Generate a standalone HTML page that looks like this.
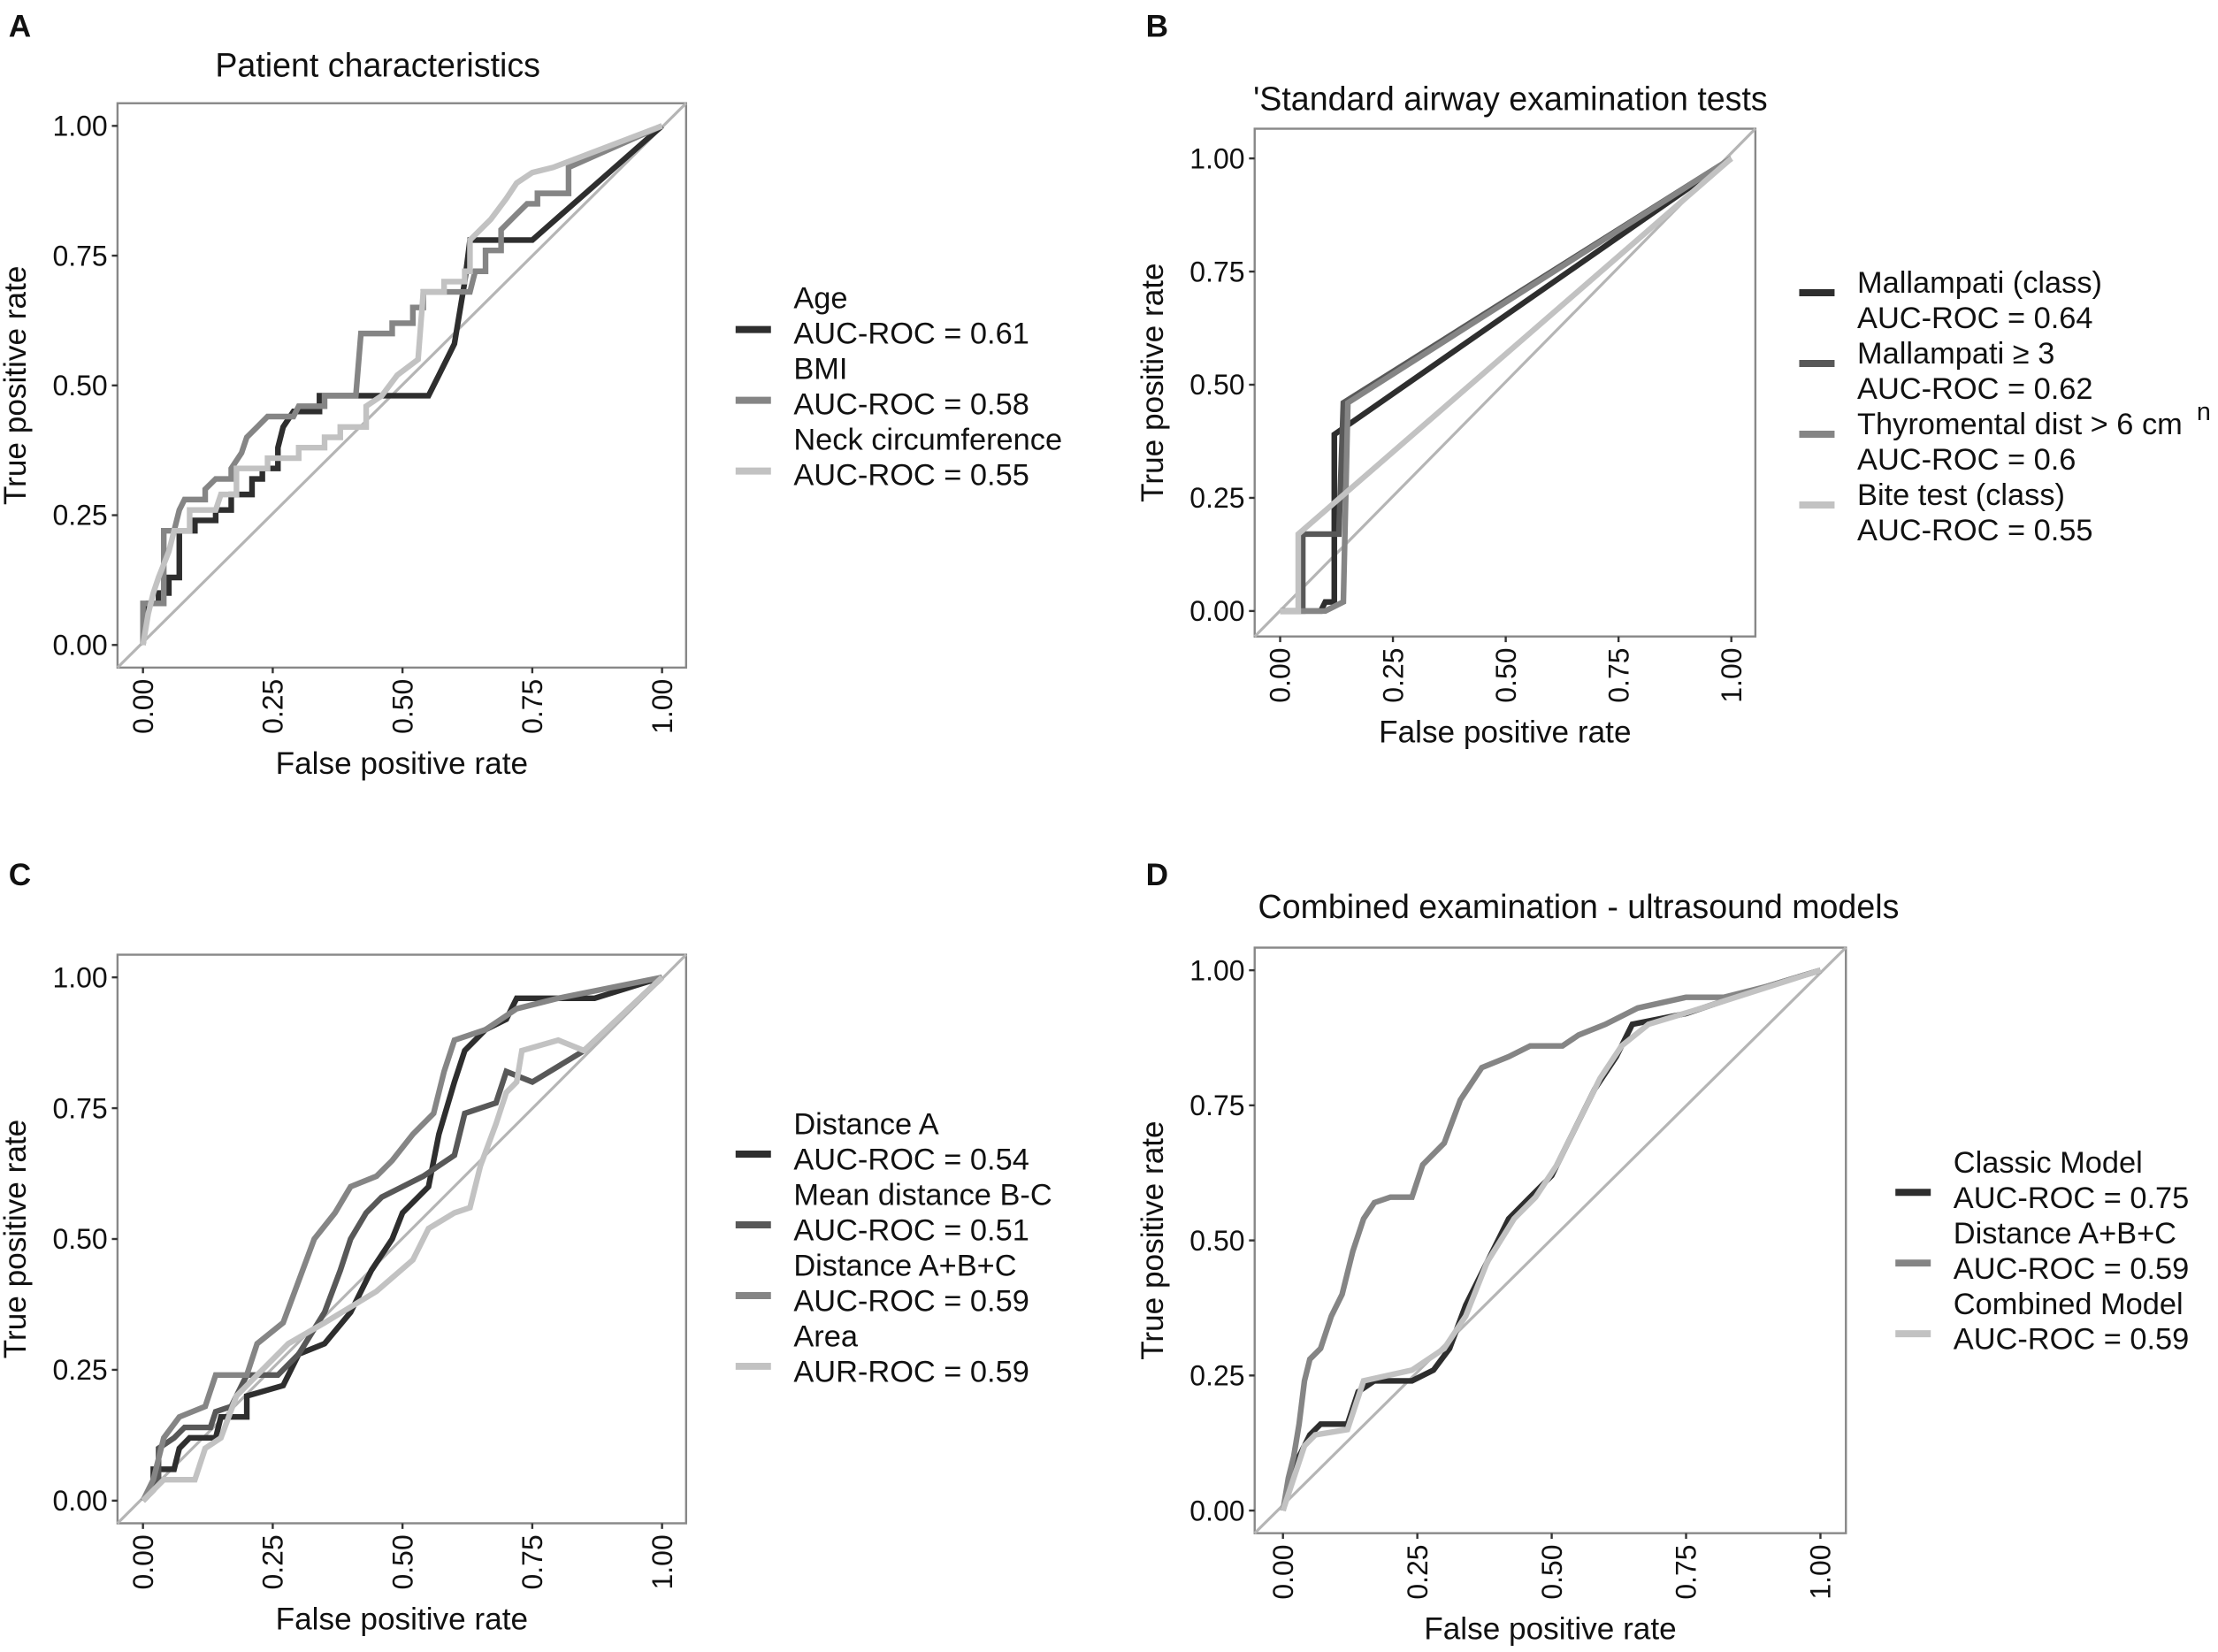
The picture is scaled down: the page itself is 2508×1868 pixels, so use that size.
<!DOCTYPE html>
<html><head><meta charset="utf-8"><style>
html,body{margin:0;padding:0;background:#fff}
svg{display:block;font-family:"Liberation Sans",sans-serif}
</style></head><body>
<svg id="fig" width="2508" height="1868" viewBox="0 0 1568 1168" xmlns="http://www.w3.org/2000/svg"></svg>
<script>
const ticks=[0,0.25,0.5,0.75,1];
const tickLabels=["0.00","0.25","0.50","0.75","1.00"];
// Panel A
const aAge=[[0,0],[0.01,0.08],[0.03,0.08],[0.03,0.10],[0.05,0.10],[0.05,0.13],[0.07,0.13],[0.07,0.22],[0.1,0.22],[0.1,0.24],[0.14,0.24],[0.14,0.26],[0.17,0.26],[0.17,0.29],[0.21,0.29],[0.21,0.32],[0.23,0.32],[0.23,0.34],[0.26,0.34],[0.26,0.38],[0.27,0.42],[0.29,0.45],[0.34,0.45],[0.34,0.48],[0.55,0.48],[0.57,0.52],[0.6,0.58],[0.62,0.7],[0.63,0.78],[0.75,0.78],[1,1]];
const aBMI=[[0,0],[0,0.08],[0.04,0.08],[0.04,0.22],[0.06,0.22],[0.07,0.26],[0.08,0.28],[0.12,0.28],[0.12,0.30],[0.14,0.32],[0.17,0.32],[0.17,0.34],[0.19,0.37],[0.2,0.4],[0.22,0.42],[0.24,0.44],[0.29,0.44],[0.3,0.46],[0.35,0.46],[0.35,0.48],[0.41,0.48],[0.42,0.6],[0.48,0.6],[0.48,0.62],[0.52,0.62],[0.52,0.65],[0.54,0.65],[0.54,0.68],[0.63,0.68],[0.64,0.72],[0.66,0.72],[0.66,0.76],[0.69,0.76],[0.69,0.8],[0.72,0.83],[0.74,0.85],[0.76,0.85],[0.76,0.87],[0.82,0.87],[0.82,0.92],[1,1]];
const aNeck=[[0,0],[0.01,0.06],[0.02,0.10],[0.03,0.13],[0.05,0.18],[0.06,0.22],[0.09,0.22],[0.09,0.26],[0.14,0.26],[0.15,0.29],[0.18,0.29],[0.18,0.34],[0.24,0.34],[0.24,0.36],[0.3,0.36],[0.3,0.38],[0.35,0.38],[0.35,0.40],[0.38,0.40],[0.38,0.42],[0.43,0.42],[0.43,0.46],[0.46,0.48],[0.49,0.52],[0.53,0.55],[0.54,0.68],[0.58,0.68],[0.58,0.7],[0.62,0.7],[0.62,0.72],[0.63,0.72],[0.63,0.78],[0.67,0.82],[0.7,0.86],[0.72,0.89],[0.75,0.91],[0.79,0.92],[1,1]];
// Panel B
const bMallClass=[[0,0],[0.09,0],[0.1,0.02],[0.12,0.02],[0.12,0.39],[1,1]];
const bMall3=[[0,0],[0.05,0],[0.05,0.17],[0.13,0.17],[0.14,0.46],[1,1]];
const bThyro=[[0,0],[0.1,0],[0.14,0.02],[0.15,0.46],[1,1]];
const bBite=[[0,0],[0.04,0],[0.04,0.17],[1,1]];
// Panel C
const cDistA=[[0,0],[0.02,0.02],[0.02,0.06],[0.06,0.06],[0.07,0.1],[0.09,0.12],[0.14,0.12],[0.15,0.16],[0.2,0.16],[0.2,0.2],[0.27,0.22],[0.3,0.28],[0.35,0.3],[0.4,0.36],[0.44,0.44],[0.48,0.5],[0.5,0.55],[0.55,0.6],[0.57,0.7],[0.6,0.8],[0.62,0.86],[0.66,0.9],[0.7,0.92],[0.72,0.96],[0.87,0.96],[1,1]];
const cMeanBC=[[0,0],[0.03,0.04],[0.03,0.1],[0.06,0.12],[0.08,0.14],[0.13,0.14],[0.14,0.17],[0.17,0.18],[0.2,0.24],[0.26,0.24],[0.3,0.28],[0.35,0.36],[0.38,0.44],[0.4,0.5],[0.43,0.55],[0.46,0.58],[0.5,0.6],[0.54,0.62],[0.57,0.64],[0.6,0.66],[0.62,0.74],[0.68,0.76],[0.7,0.82],[0.75,0.8],[0.85,0.86],[1,1]];
const cABC=[[0,0],[0.02,0.04],[0.04,0.12],[0.07,0.16],[0.12,0.18],[0.14,0.24],[0.2,0.24],[0.22,0.3],[0.27,0.34],[0.3,0.42],[0.33,0.5],[0.37,0.55],[0.4,0.6],[0.45,0.62],[0.48,0.65],[0.52,0.7],[0.56,0.74],[0.58,0.82],[0.6,0.88],[0.66,0.9],[0.72,0.94],[0.8,0.96],[1,1]];
const cArea=[[0,0],[0.04,0.04],[0.1,0.04],[0.12,0.1],[0.15,0.12],[0.18,0.2],[0.22,0.24],[0.28,0.3],[0.35,0.34],[0.45,0.4],[0.52,0.46],[0.55,0.52],[0.6,0.55],[0.63,0.56],[0.65,0.64],[0.68,0.72],[0.7,0.78],[0.72,0.8],[0.73,0.86],[0.8,0.88],[0.85,0.86],[1,1]];
// Panel D
const dClassic=[[0,0],[0.01,0.04],[0.03,0.1],[0.05,0.14],[0.07,0.16],[0.12,0.16],[0.14,0.22],[0.17,0.24],[0.24,0.24],[0.28,0.26],[0.31,0.3],[0.34,0.38],[0.38,0.46],[0.42,0.54],[0.46,0.58],[0.5,0.62],[0.54,0.7],[0.58,0.78],[0.62,0.84],[0.65,0.9],[0.75,0.92],[0.9,0.97],[1,1]];
const dABC=[[0,0],[0.01,0.06],[0.02,0.1],[0.03,0.16],[0.04,0.24],[0.05,0.28],[0.07,0.3],[0.09,0.36],[0.11,0.4],[0.13,0.48],[0.15,0.54],[0.17,0.57],[0.2,0.58],[0.24,0.58],[0.26,0.64],[0.3,0.68],[0.33,0.76],[0.37,0.82],[0.42,0.84],[0.46,0.86],[0.52,0.86],[0.55,0.88],[0.6,0.9],[0.66,0.93],[0.75,0.95],[0.82,0.95],[0.9,0.97],[1,1]];
const dCombined=[[0,0],[0.02,0.06],[0.04,0.12],[0.06,0.14],[0.12,0.15],[0.15,0.24],[0.24,0.26],[0.3,0.3],[0.34,0.36],[0.38,0.46],[0.43,0.54],[0.47,0.58],[0.51,0.64],[0.55,0.72],[0.59,0.8],[0.63,0.86],[0.68,0.9],[0.78,0.93],[1,1]];

const NS="http://www.w3.org/2000/svg";
const svg=document.getElementById('fig');
function mk(tag,attrs,parent,text){const e=document.createElementNS(NS,tag);for(const k in attrs)e.setAttribute(k,attrs[k]);if(text!==undefined)e.textContent=text;(parent||svg).appendChild(e);return e;}

function panel(p){
  const g=mk('g',{});
  
  
  const sx=v=>p.x0+v*(p.x1-p.x0), sy=v=>p.y0-v*(p.y0-p.y1);
  const lab=mk('text',{x:p.lx,y:p.ly,'font-size':22,'font-weight':'bold',fill:'#111'},g,p.letter);
  
  
  const t=mk('text',{x:p.tx,y:p.ty,'font-size':23.5,'text-anchor':p.ta||'middle',fill:'#111'},g,p.title);
  
  
  const box=mk('rect',{x:p.bx0,y:p.by0,width:p.bx1-p.bx0,height:p.by1-p.by0,fill:'none',stroke:'#888','stroke-width':1.5},g);
  
  
  const dg=mk('line',{x1:p.bx0,y1:p.by1,x2:p.bx1,y2:p.by0,stroke:'#b5b5b5','stroke-width':2},g);
  
  
  ticks.forEach((v,i)=>{
    const yt=mk('line',{x1:p.bx0-4,x2:p.bx0,y1:sy(v),y2:sy(v),stroke:'#333','stroke-width':1.5},g);
    
    
    const yl=mk('text',{x:p.bx0-7,y:sy(v)+7,'font-size':20,'text-anchor':'end',fill:'#111'},g,tickLabels[i]);
    
    
    const xt=mk('line',{x1:sx(v),x2:sx(v),y1:p.by1,y2:p.by1+4,stroke:'#333','stroke-width':1.5},g);
    
    
    const xl=mk('text',{x:0,y:0,'font-size':20,'text-anchor':'end',fill:'#111',transform:`translate(${sx(v)+7},${p.by1+8}) rotate(-90)`},g,tickLabels[i]);
    
    
  });
  const xa=mk('text',{x:(p.bx0+p.bx1)/2,y:p.by1+75,'font-size':22,'text-anchor':'middle',fill:'#111'},g,'False positive rate');
  
  
  const ya=mk('text',{x:0,y:0,'font-size':22,'text-anchor':'middle',fill:'#111',transform:`translate(${p.bx0-65},${(p.by0+p.by1)/2}) rotate(-90)`},g,'True positive rate');
  
  
  p.series.forEach((s,i)=>{
    const d=s.data.map((pt,j)=>(j?'L':'M')+sx(pt[0]).toFixed(1)+','+sy(pt[1]).toFixed(1)).join('');
    const pa=mk('path',{d,fill:'none',stroke:s.color,'stroke-width':4,'stroke-linejoin':'miter'},g);
    
    
    const ly=p.legY+i*50;
    const lk=mk('line',{x1:p.legX,x2:p.legX+25,y1:ly,y2:ly,stroke:s.color,'stroke-width':5},g);
    
    
    const lt=mk('text',{x:p.legX+41,y:ly+p.tOff,'font-size':21.5,fill:'#111'},g);
    
    
    mk('tspan',{x:p.legX+41,dy:0},lt,s.label);
    mk('tspan',{x:p.legX+41,dy:25},lt,s.auc);
  });
}
const C1='#2e2e2e',C2='#585858',C3='#858585',C4='#c2c2c2';
panel({name:'panel-a',letter:'A',lx:6,ly:26,title:'Patient characteristics',tx:267,ty:54,
  bx0:83,bx1:485,by0:73,by1:472,x0:101,x1:468,y0:456,y1:89,legX:520,legY:233,tOff:-15,
  series:[{key:'age',data:aAge,color:C1,label:'Age',auc:'AUC-ROC = 0.61'},
          {key:'bmi',data:aBMI,color:C3,label:'BMI',auc:'AUC-ROC = 0.58'},
          {key:'neck',data:aNeck,color:C4,label:'Neck circumference',auc:'AUC-ROC = 0.55'}]});
panel({name:'panel-b',letter:'B',lx:810,ly:26,title:'\'Standard airway examination tests',tx:886,ty:78,ta:'start',
  bx0:887,bx1:1241,by0:91,by1:450,x0:905,x1:1224,y0:432,y1:112,legX:1272,legY:207,tOff:0,
  series:[{key:'mallampati-class',data:bMallClass,color:C1,label:'Mallampati (class)',auc:'AUC-ROC = 0.64'},
          {key:'mallampati-3',data:bMall3,color:C2,label:'Mallampati ≥ 3',auc:'AUC-ROC = 0.62'},
          {key:'thyromental',data:bThyro,color:C3,label:'Thyromental dist > 6 cm',auc:'AUC-ROC = 0.6'},
          {key:'bite-test',data:bBite,color:C4,label:'Bite test (class)',auc:'AUC-ROC = 0.55'}]});
panel({name:'panel-c',letter:'C',lx:6,ly:626,title:'',tx:267,ty:640,
  bx0:83,bx1:485,by0:675,by1:1077,x0:101,x1:468,y0:1061,y1:691,legX:520,legY:816,tOff:-14,
  series:[{key:'distance-a',data:cDistA,color:C1,label:'Distance A',auc:'AUC-ROC = 0.54'},
          {key:'mean-bc',data:cMeanBC,color:C2,label:'Mean distance B-C',auc:'AUC-ROC = 0.51'},
          {key:'distance-abc',data:cABC,color:C3,label:'Distance A+B+C',auc:'AUC-ROC = 0.59'},
          {key:'area',data:cArea,color:C4,label:'Area',auc:'AUR-ROC = 0.59'}]});
panel({name:'panel-d',letter:'D',lx:810,ly:626,title:'Combined examination - ultrasound models',tx:1116,ty:649,
  bx0:887,bx1:1305,by0:670,by1:1084,x0:907,x1:1287,y0:1068,y1:686,legX:1340,legY:843,tOff:-14,
  series:[{key:'classic',data:dClassic,color:C1,label:'Classic Model',auc:'AUC-ROC = 0.75'},
          {key:'abc',data:dABC,color:C3,label:'Distance A+B+C',auc:'AUC-ROC = 0.59'},
          {key:'combined',data:dCombined,color:C4,label:'Combined Model',auc:'AUC-ROC = 0.59'}]});
const stray=mk('text',{x:1553,y:297,'font-size':18,fill:'#111'},svg,'n');


</script>
</body></html>
